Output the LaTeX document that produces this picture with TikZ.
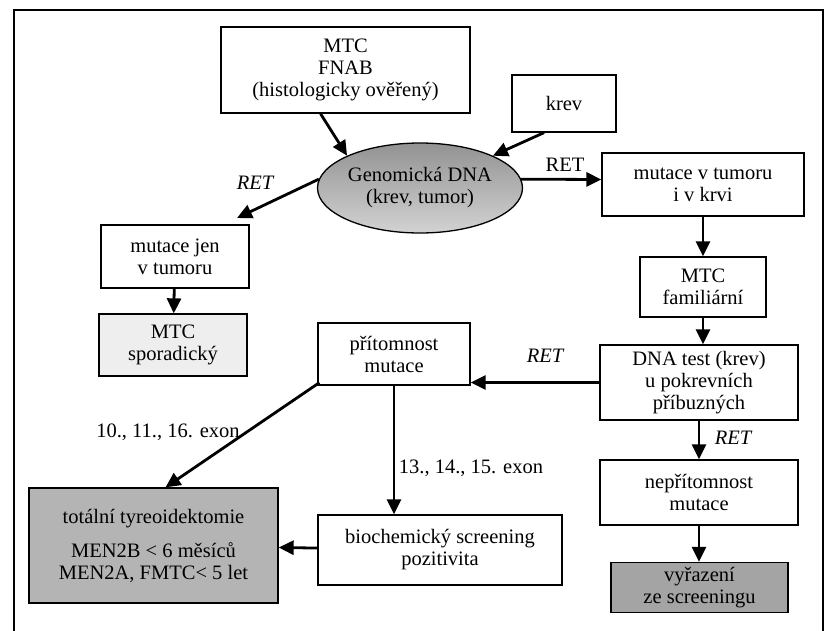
\documentclass[tikz,border=0pt]{standalone}
\usepackage{fontspec}
\setmainfont{Liberation Serif}
\usetikzlibrary{shapes.geometric,arrows.meta}

\begin{document}
\begin{tikzpicture}[x=1pt, y=-1pt,
    box/.style={draw=black, line width=1.3pt, fill=white, inner sep=0pt, align=center,
        font=\fontsize{20.5}{22}\selectfont},
    flow/.style={line width=2.8pt, -{Triangle[length=15pt,width=14pt]}},
    lbl/.style={font=\fontsize{20.5}{22}\selectfont, inner sep=0pt},
    retlbl/.style={font=\fontsize{20.5}{22}\selectfont\itshape, inner sep=0pt}]

    \definecolor{stippleLight}{HTML}{EEEEEE}
    \definecolor{stippleMid}{HTML}{B4B4B4}
    \definecolor{stippleDark}{HTML}{A4A4A4}

    \useasboundingbox (0,0) rectangle (825,630);

    % Frame
    \draw[line width=1.3pt] (14,632) -- (14,10) -- (823,10) -- (823,632);

    % Samples
    \node[box, minimum width=249pt, minimum height=86pt] (fnab) at (345.5,70)
        {MTC\\FNAB\\(histologicky ověřený)};
    \node[box, minimum width=104pt, minimum height=57pt] (krev) at (564,103.5) {krev};

    % Genomic DNA
    \node[ellipse, draw=black, line width=1.3pt, top color=gray!85, bottom color=gray!35,
        minimum width=205pt, minimum height=90pt, inner sep=0pt, align=center,
        font=\fontsize{20.5}{22}\selectfont] (dna) at (420,188)
        {Genomická DNA\\(krev, tumor)};

    % Left branch
    \node[box, minimum width=148pt, minimum height=63pt] (mutJ) at (175,256.5)
        {mutace jen\\v tumoru};
    \node[box, fill=stippleLight, minimum width=148pt, minimum height=62pt] (spor) at (173,345)
        {MTC\\sporadický};

    % Right branch
    \node[box, minimum width=202pt, minimum height=63pt] (mutTK) at (703,184.5)
        {mutace v tumoru\\i v krvi};
    \node[box, minimum width=126pt, minimum height=60pt] (famil) at (703,287)
        {MTC\\familiární};
    \node[box, minimum width=198pt, minimum height=75pt] (test) at (699,382.5)
        {DNA test (krev)\\u pokrevních\\příbuzných};
    \node[box, minimum width=198pt, minimum height=65pt] (nepr) at (699,492.5)
        {nepřítomnost\\mutace};
    \node[box, fill=stippleDark, minimum width=177pt, minimum height=50pt] (vyraz) at (699.5,587.5)
        {vyřazení\\ze screeningu};

    % Carriers
    \node[box, minimum width=152pt, minimum height=62pt] (prit) at (394,354)
        {přítomnost\\mutace};
    \node[box, minimum width=244pt, minimum height=70pt] (bio) at (440,550)
        {biochemický screening\\pozitivita};
    \node[box, fill=stippleMid, minimum width=249pt, minimum height=115pt] (tot) at (153.5,545.5)
        {totální tyreoidektomie\\[12pt]MEN2B < 6 měsíců\\MEN2A, FMTC< 5 let};

    % Connectors
    \coordinate (jTip) at (237,218);
    \draw[flow] ([xshift=-25pt]fnab.south) -- (dna.north west);
    \draw[flow] ([xshift=-20pt]krev.south) -- (dna.north east);
    \draw[flow] (dna.175) -- (jTip);
    \draw[flow] (mutJ) -- (spor);
    \draw[flow] (dna.5) -- ([yshift=5pt]mutTK.west);
    \draw[flow] (mutTK) -- (famil);
    \draw[flow] (famil.south) -- (famil.south |- test.north);
    \draw[flow] (test.west) -- (prit.east |- test.west);
    \draw[flow] (test) -- (nepr);
    \draw[flow] (nepr.south) -- (nepr.south |- vyraz.north);
    \draw[flow] (prit.south) -- (prit.south |- bio.north);
    \draw[flow] ([shift={(2pt,3pt)}]prit.south west) -- ([xshift=12pt]tot.north);
    \draw[flow] (bio) -- (tot);

    % Labels
    \node[retlbl] (ret1) at (255,183) {RET};
    \node[lbl] (ret2) at (565,165) {RET};
    \node[retlbl] (ret3) at (545,356) {RET};
    \node[retlbl] (ret4) at (733,438) {RET};
    \node[lbl] (exA) at (168,432) {10., 11., 16. exon};
    \node[lbl] (exB) at (471,468) {13., 14., 15. exon};

\end{tikzpicture}
\end{document}
